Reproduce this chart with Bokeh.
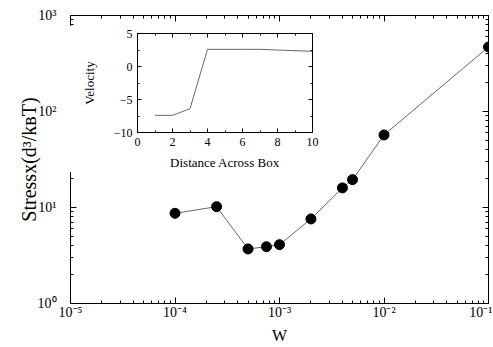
from bokeh.plotting import figure
from bokeh.models import (Range1d, FixedTicker, LogAxis, LinearAxis)
from bokeh.layouts import column
from bokeh.embed import file_html
from bokeh.resources import INLINE

# ---- data ----
w_vals = [1e-4, 2.5e-4, 5e-4, 7.5e-4, 1e-3, 2e-3, 4e-3, 5e-3, 1e-2, 1e-1]
stress_vals = [8.7, 10.2, 3.7, 3.9, 4.1, 7.6, 16.0, 19.5, 57.0, 470.0]

x_ticks = [1e-5, 1e-4, 1e-3, 1e-2, 1e-1]
x_tick_labels = ["10⁻⁵", "10⁻⁴", "10⁻³", "10⁻²", "10⁻¹"]
y_ticks = [1, 10, 100, 1000]
y_tick_labels = ["10⁰", "10¹", "10²", "10³"]

dist_vals = [1, 2, 3, 4, 5, 6, 7, 8, 9, 10]
vel_vals = [-7.4, -7.4, -6.4, 2.6, 2.6, 2.6, 2.6, 2.5, 2.4, 2.3]
inset_x_ticks = [0, 2, 4, 6, 8, 10]
inset_x_minor = [1, 3, 5, 7, 9]
inset_y_ticks = [-10, -5, 0, 5]
inset_y_minor = [-7.5, -2.5, 2.5]

FONT = "Liberation Serif"

def minor_log(ticks):
    out = []
    for t in ticks[:-1]:
        out += [t * k for k in range(2, 10)]
    return out

def style_axis(ax, label_size, tin=6, tmin=3):
    ax.major_tick_in = tin
    ax.major_tick_out = 0
    ax.minor_tick_in = tmin
    ax.minor_tick_out = 0
    ax.major_tick_line_color = "black"
    ax.minor_tick_line_color = "black"
    ax.axis_line_color = "black"
    ax.major_label_text_font = FONT
    ax.major_label_text_color = "black"
    ax.major_label_text_font_size = label_size
    ax.axis_label_text_font = FONT
    ax.axis_label_text_font_style = "normal"
    ax.axis_label_text_color = "black"

def blank_axis(ax, ticks):
    ax.major_label_overrides = {t: "" for t in ticks}
    ax.major_label_standoff = 0
    ax.major_label_text_font_size = "1px"

# ---- main figure ----
p = figure(frame_width=418, frame_height=288, x_axis_type="log", y_axis_type="log",
           x_range=Range1d(1e-5, 1e-1), y_range=Range1d(1, 1000),
           output_backend="svg", toolbar_location=None,
           min_border_left=65, min_border_right=9, min_border_top=15,
           min_border_bottom=44)
p.grid.visible = False
p.outline_line_color = "black"
p.background_fill_color = "white"
p.border_fill_color = "white"

p.xaxis.ticker = FixedTicker(ticks=x_ticks, minor_ticks=minor_log(x_ticks))
p.yaxis.ticker = FixedTicker(ticks=y_ticks, minor_ticks=minor_log(y_ticks))
p.xaxis.major_label_overrides = dict(zip(x_ticks, x_tick_labels))
p.yaxis.major_label_overrides = dict(zip(y_ticks, y_tick_labels))
style_axis(p.xaxis[0], "14px")
style_axis(p.yaxis[0], "14px")
p.xaxis.major_label_standoff = 1
p.yaxis.major_label_standoff = 14
p.xaxis.axis_label = "W"
p.xaxis.axis_label_text_font_size = "16px"
p.xaxis.axis_label_standoff = 4
p.yaxis.axis_label = "Stressx(d³/kʙT)"
p.yaxis.axis_label_text_font_size = "20px"
p.yaxis.axis_label_standoff = -5

top_ax = LogAxis(ticker=FixedTicker(ticks=x_ticks, minor_ticks=minor_log(x_ticks)))
style_axis(top_ax, "14px")
blank_axis(top_ax, x_ticks)
p.add_layout(top_ax, "above")
right_ax = LogAxis(ticker=FixedTicker(ticks=y_ticks, minor_ticks=minor_log(y_ticks)))
style_axis(right_ax, "14px")
blank_axis(right_ax, y_ticks)
p.add_layout(right_ax, "right")

p.line(w_vals, stress_vals, line_color="#666666", line_width=1)
p.scatter(w_vals, stress_vals, size=10, fill_color="black", line_color="black")

# ---- inset figure ----
q = figure(frame_width=175, frame_height=99, x_range=Range1d(0, 10),
           y_range=Range1d(-10, 5),
           output_backend="svg", toolbar_location=None,
           min_border_left=70, min_border_right=10, min_border_top=8,
           min_border_bottom=40)
q.grid.visible = False
q.outline_line_color = "black"
q.background_fill_color = "white"
q.border_fill_color = "white"
q.xaxis.ticker = FixedTicker(ticks=inset_x_ticks, minor_ticks=inset_x_minor)
q.yaxis.ticker = FixedTicker(ticks=inset_y_ticks, minor_ticks=inset_y_minor)
style_axis(q.xaxis[0], "12px", 4, 2)
style_axis(q.yaxis[0], "12px", 4, 2)
q.xaxis.major_label_standoff = 5
q.yaxis.major_label_standoff = 5
q.xaxis.axis_label = "Distance Across Box"
q.yaxis.axis_label = "Velocity"
q.xaxis.axis_label_text_font_size = "13px"
q.yaxis.axis_label_text_font_size = "13px"
q.xaxis.axis_label_standoff = 6
q.yaxis.axis_label_standoff = 14
qt = LinearAxis(ticker=FixedTicker(ticks=inset_x_ticks, minor_ticks=inset_x_minor))
style_axis(qt, "12px", 4, 2)
blank_axis(qt, inset_x_ticks)
q.add_layout(qt, "above")
qr = LinearAxis(ticker=FixedTicker(ticks=inset_y_ticks, minor_ticks=inset_y_minor))
style_axis(qr, "12px", 4, 2)
blank_axis(qr, inset_y_ticks)
q.add_layout(qr, "right")
q.line(dist_vals, vel_vals, line_color="#666666", line_width=1)

q.margin = (-322, 0, 0, 67)

layout = column(p, q, spacing=0)
open("out.html", "w").write(file_html(layout, INLINE))
